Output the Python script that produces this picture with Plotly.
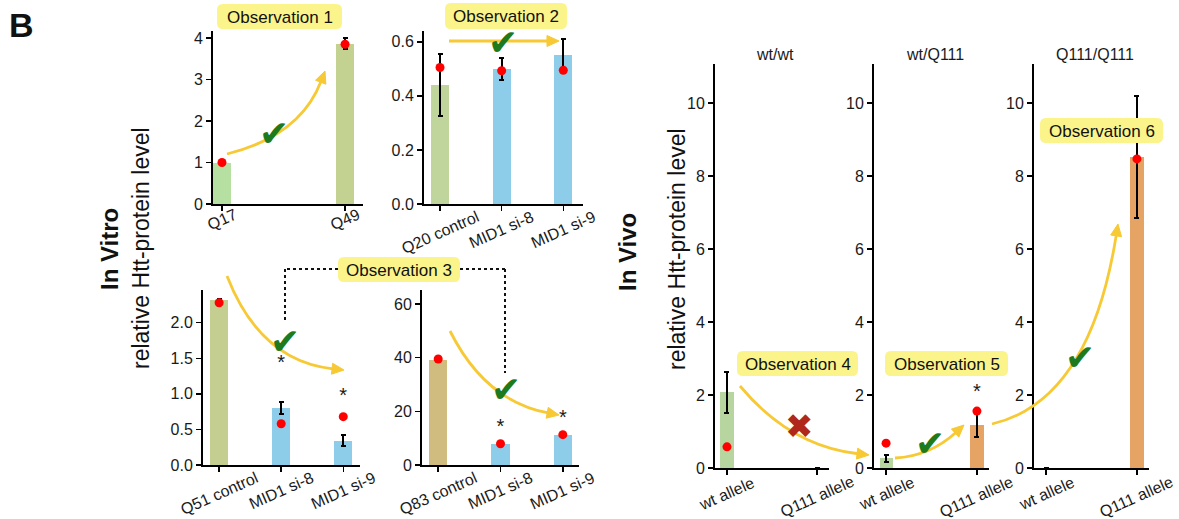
import math
import plotly.graph_objects as go

W, H0 = 1179, 519          # reference frame size (pixels)
H = 529                    # rendered figure height
SY = H / H0                # vertical design scale
FONT = "Liberation Sans, Arial, sans-serif"

# ---------------- data ----------------
p1_cats = ["Q17", "Q49"]
p1_vals = [1.0, 3.86]
p1_err = [None, 0.13]
p1_dots = [1.0, 3.85]
p1_colors = ["#b6dfa2", "#c3d191"]

p2_cats = ["Q20 control", "MID1 si-8", "MID1 si-9"]
p2_vals = [0.44, 0.50, 0.55]
p2_err = [0.115, 0.04, 0.06]
p2_dots = [0.505, 0.493, 0.495]
p2_colors = ["#bfd59c", "#8ecdea", "#8ecdea"]

p3_cats = ["Q51 control", "MID1 si-8", "MID1 si-9"]
p3_vals = [2.32, 0.80, 0.34]
p3_err = [0.02, 0.085, 0.075]
p3_dots = [2.28, 0.58, 0.68]
p3_stars = [None, 1.42, 0.96]
p3_colors = ["#c5ce91", "#8ecdea", "#8ecdea"]

p4_cats = ["Q83 control", "MID1 si-8", "MID1 si-9"]
p4_vals = [39.2, 7.8, 11.2]
p4_err = [None, None, None]
p4_dots = [39.5, 7.9, 11.3]
p4_stars = [None, 13.8, 17.0]
p4_colors = ["#d0bc7e", "#8ecdea", "#8ecdea"]

vivo_cats = ["wt allele", "Q111 allele"]
vivo_colors = ["#b7d59e", "#e6a464"]
wtwt_vals = [2.08, 0]
wtwt_err = [0.56, None]
wtwt_dots = [0.58, None]
wtq_vals = [0.27, 1.18]
wtq_err = [0.1, 0.33]
wtq_dots = [0.68, 1.56]
wtq_stars = [None, 2.05]
qq_vals = [0, 8.52]
qq_err = [None, 1.66]
qq_dots = [None, 8.47]

vivo_titles = ["wt/wt", "wt/Q111", "Q111/Q111"]

# ---------------- layout geometry (reference pixels) ----------------
panels = [
    dict(x0=213, x1=363, y0=30, y1=203, yr=[0, 4.17], xr=[-0.073, 1.146], dtick=1, fmt="d", bw=0.15,
         cats=p1_cats, vals=p1_vals, err=p1_err, dots=p1_dots, stars=None, colors=p1_colors),
    dict(x0=424, x1=583, y0=30, y1=203, yr=[0, 0.64], xr=[-0.26, 2.32], dtick=0.2, fmt=".1f", bw=0.29,
         cats=p2_cats, vals=p2_vals, err=p2_err, dots=p2_dots, stars=None, colors=p2_colors),
    dict(x0=203, x1=360, y0=289, y1=464, yr=[0, 2.46], xr=[-0.26, 2.27], dtick=0.5, fmt=".1f", bw=0.29,
         cats=p3_cats, vals=p3_vals, err=p3_err, dots=p3_dots, stars=p3_stars, colors=p3_colors),
    dict(x0=422, x1=579, y0=289, y1=464, yr=[0, 65.2], xr=[-0.26, 2.26], dtick=20, fmt="d", bw=0.29,
         cats=p4_cats, vals=p4_vals, err=p4_err, dots=p4_dots, stars=p4_stars, colors=p4_colors),
    dict(x0=715, x1=829, y0=63, y1=467, yr=[0, 11.07], xr=[-0.133, 1.133], dtick=2, fmt="d", bw=0.145,
         cats=vivo_cats, vals=wtwt_vals, err=wtwt_err, dots=wtwt_dots, stars=None, colors=vivo_colors),
    dict(x0=874, x1=989, y0=63, y1=467, yr=[0, 11.07], xr=[-0.133, 1.133], dtick=2, fmt="d", bw=0.145,
         cats=vivo_cats, vals=wtq_vals, err=wtq_err, dots=wtq_dots, stars=wtq_stars, colors=vivo_colors),
    dict(x0=1034, x1=1149, y0=63, y1=467, yr=[0, 11.07], xr=[-0.133, 1.133], dtick=2, fmt="d", bw=0.145,
         cats=vivo_cats, vals=qq_vals, err=qq_err, dots=qq_dots, stars=None, colors=vivo_colors),
]


def P(x, y):
    return x / W, 1 - (y * SY) / H


def pstr(x, y):
    a, b = P(x, y)
    return f"{a:.5f},{b:.5f}"


fig = go.Figure()
layout_axes = {}
annotations = []
shapes = []

for i, p in enumerate(panels):
    n = "" if i == 0 else str(i + 1)
    layout_axes["xaxis" + n] = dict(
        domain=[p["x0"] / W, p["x1"] / W], anchor="y" + n, type="category",
        categoryorder="array", categoryarray=p["cats"],
        range=p["xr"], showticklabels=False, ticks="outside", ticklen=5, tickwidth=1.5,
        tickcolor="black", showline=True, linecolor="black", linewidth=2,
        showgrid=False, zeroline=False, fixedrange=True)
    layout_axes["yaxis" + n] = dict(
        domain=[P(0, p["y1"])[1], P(0, p["y0"])[1]], anchor="x" + n, range=p["yr"],
        dtick=p["dtick"], tick0=0, tickformat=p["fmt"], ticks="outside", ticklen=5, tickwidth=1.5,
        tickcolor="black", showline=True, linecolor="black", linewidth=2,
        showgrid=False, zeroline=False, fixedrange=True,
        tickfont=dict(family=FONT, size=16, color="#1a1a1a"))
    fig.add_trace(go.Bar(
        x=p["cats"], y=p["vals"], width=p["bw"], marker=dict(color=p["colors"], line=dict(width=0)),
        error_y=dict(type="data", array=p["err"], color="black", thickness=2, width=2.5, visible=True),
        xaxis="x" + n, yaxis="y" + n, showlegend=False, hoverinfo="skip"))
    fig.add_trace(go.Scatter(
        x=p["cats"], y=p["dots"], mode="markers", marker=dict(color="#ff0000", size=9),
        xaxis="x" + n, yaxis="y" + n, showlegend=False, hoverinfo="skip"))
    if p["stars"] is not None:
        fig.add_trace(go.Scatter(
            x=p["cats"], y=p["stars"], mode="text", text=["*" if s is not None else "" for s in p["stars"]],
            textfont=dict(family=FONT, size=20, color="#1a1a1a"), textposition="middle center",
            xaxis="x" + n, yaxis="y" + n, showlegend=False, hoverinfo="skip"))
    # rotated category labels centred under the ticks
    ang = 24
    for c in p["cats"]:
        wtxt = len(c) * 8.2
        dy = 3 + (wtxt * math.sin(math.radians(ang)) + 16 * math.cos(math.radians(ang))) / 2
        annotations.append(dict(
            x=c, xref="x" + n, y=P(0, p["y1"] + dy)[1], yref="paper", text=c, showarrow=False,
            textangle=-ang, xanchor="center", yanchor="middle",
            font=dict(family=FONT, size=16, color="#1a1a1a")))


def add_text(x, y, text, size, angle=0, color="#111111"):
    px, py = P(x, y)
    annotations.append(dict(x=px, y=py, xref="paper", yref="paper", text=text, showarrow=False,
                            textangle=angle, xanchor="center", yanchor="middle",
                            font=dict(family=FONT, size=size, color=color)))


# titles of in-vivo panels
for p, t in zip(panels[4:], vivo_titles):
    add_text((p["x0"] + p["x1"]) / 2 + 3, 53, t, 16, 0, "#1a1a1a")

# big labels
add_text(21, 24, "<b>B</b>", 34)
add_text(109, 248, "<b>In Vitro</b>", 24, -90)
add_text(141, 247, "relative Htt-protein level", 23, -90)
add_text(628, 251, "<b>In Vivo</b>", 24, -90)
add_text(677, 248, "relative Htt-protein level", 23, -90)

# observation boxes
YEL_BOX = "#fbf48a"
obs = [("Observation 1", 217, 3, 342, 28), ("Observation 2", 445, 2, 567, 28),
       ("Observation 3", 338, 256, 460, 281), ("Observation 4", 737, 350, 858, 375),
       ("Observation 5", 885, 350, 1008, 375), ("Observation 6", 1040, 117, 1163, 142)]


def rrect(x0, y0, x1, y1, r):
    return (f"M {pstr(x0 + r, y0)} L {pstr(x1 - r, y0)} Q {pstr(x1, y0)} {pstr(x1, y0 + r)} "
            f"L {pstr(x1, y1 - r)} Q {pstr(x1, y1)} {pstr(x1 - r, y1)} L {pstr(x0 + r, y1)} "
            f"Q {pstr(x0, y1)} {pstr(x0, y1 - r)} L {pstr(x0, y0 + r)} Q {pstr(x0, y0)} {pstr(x0 + r, y0)} Z")


# dotted connectors for observation 3
for seg in [((338, 268), (285, 268)), ((285, 268), (285, 322)),
            ((460, 268), (505, 268)), ((505, 268), (505, 372))]:
    (ax_, ay_), (bx_, by_) = seg
    a0, a1 = P(ax_, ay_)
    b0, b1 = P(bx_, by_)
    shapes.append(dict(type="line", xref="paper", yref="paper", x0=a0, y0=a1, x1=b0, y1=b1,
                       line=dict(color="#111111", width=2, dash="dot"), layer="above"))

# yellow arrows: (start, control, tip)
YEL = "#f7c934"
arrows = [((227, 153), (300, 135), (325, 70)),
          ((449, 40), (500, 40), (559, 40)),
          ((227, 275), (260, 360), (344, 369)),
          ((450, 330), (485, 400), (559, 414)),
          ((740, 385), (790, 445), (869, 454)),
          ((895, 457), (930, 455), (964, 424)),
          ((992, 423), (1090, 400), (1118, 223))]
for (s, c, t) in arrows:
    dx, dy = t[0] - c[0], t[1] - c[1]
    L = math.hypot(dx, dy)
    ux, uy = dx / L, dy / L
    hl, hw = 12, 11
    bx, by = t[0] - ux * hl, t[1] - uy * hl
    shapes.append(dict(type="path", xref="paper", yref="paper",
                       path=f"M {pstr(*s)} Q {pstr(*c)} {pstr(bx + ux, by + uy)}",
                       line=dict(color=YEL, width=2.8), layer="above"))
    px_, py_ = -uy, ux
    shapes.append(dict(type="path", xref="paper", yref="paper",
                       path=(f"M {pstr(*t)} L {pstr(bx + px_ * hw / 2, by + py_ * hw / 2)} "
                             f"L {pstr(bx - px_ * hw / 2, by - py_ * hw / 2)} Z"),
                       fillcolor=YEL, line=dict(color=YEL, width=1), layer="above"))

for (txt, x0, y0, x1, y1) in obs:
    shapes.append(dict(type="path", xref="paper", yref="paper", path=rrect(x0, y0, x1, y1, 6),
                       fillcolor=YEL_BOX, line=dict(width=0), layer="above"))
    add_text((x0 + x1) / 2, (y0 + y1) / 2 + 1, txt, 17)

# check marks and cross
for (cx, cy) in [(274, 132), (503, 41), (285, 340), (506, 389), (930, 443), (1080, 357)]:
    add_text(cx, cy, "✔", 36, 0, "#1d7a1d")
add_text(799, 425, "✖", 34, 0, "#b0281c")

fig.update_layout(
    width=W, height=H, margin=dict(l=0, r=0, t=0, b=0),
    paper_bgcolor="white", plot_bgcolor="rgba(0,0,0,0)",
    showlegend=False, bargap=0, annotations=annotations, shapes=shapes,
    font=dict(family=FONT, color="#1a1a1a"), **layout_axes)

fig.write_html(
    "out.html",
    config={"displayModeBar": False, "staticPlot": True},
    post_script=("document.documentElement.style.margin='0';"
                 "document.documentElement.style.padding='0';"
                 "document.documentElement.style.overflow='hidden';"
                 "document.body.style.margin='0';"
                 "document.body.style.padding='0';"
                 "document.body.style.overflow='hidden';"),
)
